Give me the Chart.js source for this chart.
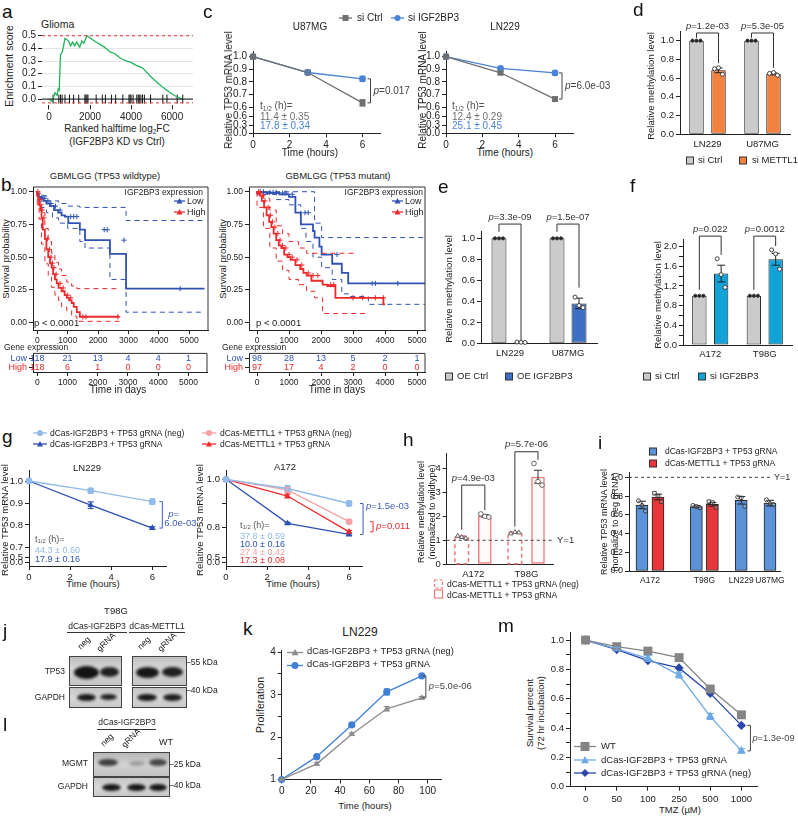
<!DOCTYPE html>
<html>
<head>
<meta charset="utf-8">
<title>IGF2BP3 / METTL1 figure</title>
<script src="https://cdn.jsdelivr.net/npm/chart.js@4.4.1/dist/chart.umd.min.js"></script>
<style>
  html, body { margin: 0; background: #fff; }
  #fig { position: relative; width: 798px; height: 817px; overflow: hidden; font-family: "Liberation Sans", Arial, Helvetica, sans-serif; color: #222; }
  #fig canvas { position: absolute; }
  .t { position: absolute; white-space: nowrap; line-height: 1; }
  .t sub { font-size: 0.65em; vertical-align: -0.3em; line-height: 0; }
  .blot { position: absolute; border: 1px solid #444; overflow: hidden; }
  .band { position: absolute; border-radius: 50%; filter: blur(1.6px); }
  .rule { position: absolute; height: 0; border-top: 1px solid #333; }
  svg.key { position: absolute; overflow: visible; }
</style>
</head>
<body>
<div id="fig"></div>
<script>
// ---------------- data ----------------
// a: GSEA running enrichment score
const gseaRank = [0, 150, 290, 400, 450, 500, 560, 650, 780, 950, 1050, 1150, 1250, 1350, 1500, 1600, 1700, 1850, 2100, 2300, 2500, 2700, 3000, 3200, 3500, 3800, 4000, 4200, 4500, 4600, 5000, 5500, 6000, 6200, 6500];
const gseaES = [0, -0.02, 0.05, 0.03, 0.08, 0.07, 0.35, 0.37, 0.48, 0.46, 0.42, 0.45, 0.42, 0.45, 0.41, 0.46, 0.44, 0.50, 0.47, 0.45, 0.43, 0.41, 0.37, 0.36, 0.32, 0.30, 0.29, 0.27, 0.25, 0.24, 0.17, 0.10, 0.04, 0.02, 0.0];
const gseaHits = [200, 480, 560, 640, 780, 1000, 1200, 1450, 1750, 1800, 1850, 1900, 2300, 2600, 2750, 3050, 3250, 3600, 3900, 3950, 4000, 4100, 4280, 4350, 4400, 4480, 4560, 4650, 4950, 5550, 5750, 6250, 6520];
const gseaXTicks = [0, 2000, 4000, 6000];
const gseaYTicks = [0, 0.1, 0.2, 0.3, 0.4, 0.5];

// b: Kaplan-Meier, TP53 wildtype
const kmXTicks = [0, 1000, 2000, 3000, 4000, 5000];
const kmYTicks = [0, 0.25, 0.5, 0.75, 1];
const wtLowT = [0, 50, 120, 200, 300, 420, 550, 690, 800, 910, 1020, 1400, 1570, 2390, 2920, 4090, 5500];
const wtLowS = [1, 0.98, 0.96, 0.95, 0.93, 0.91, 0.89, 0.86, 0.84, 0.82, 0.81, 0.76, 0.71, 0.63, 0.525, 0.26, 0.26];
const wtLowUpT = [0, 100, 300, 700, 1000, 1400, 2920, 4090, 5500];
const wtLowUpS = [1, 0.99, 0.97, 0.93, 0.91, 0.89, 0.88, 0.78, 0.78];
const wtLowLoT = [0, 100, 300, 500, 700, 1000, 1400, 1570, 2390, 2920, 4090, 5500];
const wtLowLoS = [1, 0.93, 0.88, 0.84, 0.80, 0.76, 0.72, 0.62, 0.57, 0.33, 0.08, 0.08];
const wtLowCens = [150, 250, 350, 450, 600, 750, 1100, 1200, 1300, 2200, 2300, 2850, 4700];
const wtHighT = [0, 30, 60, 100, 140, 180, 250, 300, 360, 420, 470, 520, 580, 640, 700, 800, 900, 970, 1050, 1130, 1200, 1300, 1400, 1460, 2700];
const wtHighS = [1, 0.97, 0.94, 0.9, 0.86, 0.8, 0.71, 0.64, 0.56, 0.5, 0.455, 0.42, 0.37, 0.33, 0.3, 0.265, 0.24, 0.21, 0.19, 0.17, 0.15, 0.12, 0.08, 0.045, 0.045];
const wtHighCiT = [0, 60, 140, 250, 360, 470, 580, 700, 800, 970, 1130, 1300, 1460, 2700];
const wtHighUpS = [1, 0.99, 0.94, 0.84, 0.72, 0.62, 0.53, 0.46, 0.41, 0.36, 0.31, 0.28, 0.26, 0.26];
const wtHighLoS = [1, 0.9, 0.79, 0.6, 0.45, 0.35, 0.27, 0.21, 0.17, 0.12, 0.09, 0.05, 0.01, 0.01];
const wtHighCens = [20, 80, 120, 160, 220, 330, 400, 450, 500, 550, 620, 750, 850, 1000, 1100, 1500, 1600, 2650];
const wtRiskLow = [118, 21, 13, 4, 4, 1];
const wtRiskHigh = [118, 6, 1, 0, 0, 0];

// b: Kaplan-Meier, TP53 mutant
const mutLowT = [0, 300, 700, 1000, 1200, 1370, 1750, 1800, 1950, 2020, 2350, 2650, 2850, 3480, 5250];
const mutLowS = [1, 0.995, 0.99, 0.98, 0.96, 0.84, 0.75, 0.70, 0.65, 0.58, 0.52, 0.45, 0.38, 0.30, 0.30];
const mutLowUpT = [0, 1800, 2020, 3480, 5250];
const mutLowUpS = [1, 1, 0.76, 0.65, 0.65];
const mutLowLoT = [0, 600, 1000, 1370, 1530, 1750, 2020, 2350, 2650, 2850, 3480, 4000, 5250];
const mutLowLoS = [1, 0.98, 0.94, 0.9, 0.72, 0.62, 0.5, 0.42, 0.33, 0.22, 0.2, 0.14, 0.14];
const mutLowCens = [100, 200, 400, 500, 600, 800, 900, 1100, 1500, 1600, 2500, 3600, 3700, 4400];
const mutHighT = [0, 80, 150, 220, 300, 380, 450, 520, 600, 680, 760, 850, 950, 1050, 1200, 1350, 1450, 1550, 1700, 2050, 2200, 2450, 2500, 3950, 4000];
const mutHighS = [1, 0.99, 0.97, 0.93, 0.88, 0.82, 0.77, 0.73, 0.68, 0.63, 0.59, 0.57, 0.52, 0.50, 0.48, 0.44, 0.41, 0.38, 0.36, 0.32, 0.29, 0.28, 0.19, 0.19, 0.14];
const mutHighUpT = [0, 200, 400, 600, 800, 1000, 1300, 1550, 2050, 3100];
const mutHighUpS = [1, 1, 0.95, 0.86, 0.74, 0.68, 0.62, 0.57, 0.53, 0.53];
const mutHighLoT = [0, 200, 400, 600, 800, 1000, 1300, 1550, 1800, 2050, 2250, 3400];
const mutHighLoS = [1, 0.88, 0.72, 0.57, 0.47, 0.40, 0.33, 0.29, 0.24, 0.19, 0.07, 0.07];
const mutHighCens = [50, 100, 180, 250, 350, 420, 480, 560, 650, 720, 800, 900, 1000, 1100, 1250, 1400, 1600, 1750, 1900, 2300, 2400, 3000, 3300, 3700, 3950];
const mutRiskLow = [98, 28, 13, 5, 2, 1];
const mutRiskHigh = [97, 17, 4, 2, 0, 0];

// c: TP53 mRNA decay
const cHours = [0, 3, 6];
const u87Ctrl = [1.0, 0.875, 0.635], u87CtrlSd = [0, 0.015, 0.025];
const u87Kd = [1.0, 0.875, 0.825], u87KdSd = [0, 0.01, 0.02];
const ln229Ctrl = [1.0, 0.873, 0.665], ln229CtrlSd = [0, 0.01, 0.015];
const ln229Kd = [1.0, 0.907, 0.872], ln229KdSd = [0, 0.01, 0.015];
const cTickLow = [0, 0.3, 0.6];
const cTickUp = [0.6, 0.7, 0.8, 0.9, 1.0];

// d: methylation, si METTL1
const dCells = ['LN229', 'U87MG'];
const dCtrl = [1, 1];
const dCtrlDots = [[1, 1, 1], [1, 1, 1]];
const dMettl = [0.683, 0.645], dMettlSd = [0.025, 0.01];
const dMettlDots = [[0.70, 0.71, 0.64], [0.65, 0.66, 0.63]];
const dP = ['p=1.2e-03', 'p=5.3e-05'];

// e: methylation, OE IGF2BP3
const eCells = ['LN229', 'U87MG'];
const eCtrl = [1, 1];
const eCtrlDots = [[1, 1, 1], [1, 1, 1]];
const eOE = [0.01, 0.38], eOESd = [0.003, 0.05];
const eOEDots = [[0.012, 0.01, 0.008], [0.44, 0.36, 0.34]];
const eP = ['p=3.3e-09', 'p=1.5e-07'];

// f: methylation, si IGF2BP3
const fCells = ['A172', 'T98G'];
const fCtrl = [1, 1];
const fCtrlDots = [[1, 1, 1], [1, 1, 1]];
const fKd = [1.45, 1.74], fKdSd = [0.17, 0.12];
const fKdDots = [[1.75, 1.43, 1.17], [1.93, 1.85, 1.54]];
const fP = ['p=0.022', 'p=0.0012'];

// g: dCas decay
const gHours = [0, 3, 6];
const gLnNeg = [1.0, 0.956, 0.906], gLnNegSd = [0, 0.01, 0.012];
const gLnG = [1.0, 0.89, 0.786], gLnGSd = [0, 0.015, 0.006];
const gAIgNeg = [1.0, 0.962, 0.90], gAIgNegSd = [0, 0.012, 0.01];
const gAIgG = [1.0, 0.818, 0.772], gAIgGSd = [0, 0.004, 0.004];
const gAMeNeg = [1.0, 0.956, 0.825], gAMeNegSd = [0, 0.01, 0.004];
const gAMeG = [1.0, 0.931, 0.783], gAMeGSd = [0, 0.008, 0.006];

// h: methylation, dCas-METTL1
const hCells = ['A172', 'T98G'];
const hNeg = [1.15, 1.33], hNegSd = [0.04, 0.02];
const hNegDots = [[1.2, 1.15, 1.1], [1.3, 1.36, 1.34]];
const hG = [2.02, 3.65], hGSd = [0.05, 0.27];
const hGDots = [[2.1, 2.0, 1.97], [4.2, 3.45, 3.3]];
const hP = ['p=4.9e-03', 'p=5.7e-06'];

// i: TP53 mRNA, normalised to neg gRNA
const iCells = ['A172', 'T98G', 'LN229', 'U87MG'];
const iIgf = [0.705, 0.687, 0.755, 0.725], iIgfSd = [0.04, 0.01, 0.04, 0.03];
const iIgfDots = [[0.75, 0.7, 0.64], [0.70, 0.69, 0.675], [0.79, 0.78, 0.69], [0.76, 0.72, 0.71]];
const iMet = [0.79, 0.712], iMetSd = [0.03, 0.02];
const iMetDots = [[0.83, 0.80, 0.74], [0.74, 0.73, 0.68]];
// layout of the bar slots along x (in bar widths), not data
const iSlotIgf = [0, 3.4, 6.2, 8.0];
const iSlotMet = [1, 4.4];

// k: proliferation
const kHours = [0, 24, 48, 72, 96];
const kNeg = [1.0, 1.37, 2.07, 2.67, 2.93], kNegSd = [0, 0.03, 0.03, 0.05, 0.03];
const kG = [1.0, 1.54, 2.29, 3.07, 3.45], kGSd = [0, 0.03, 0.03, 0.07, 0.03];

// m: TMZ survival
const tmzDose = ['0', '50', '100', '250', '500', '1000'];
const mWT = [1.0, 0.955, 0.925, 0.88, 0.666, 0.49];
const mGrna = [1.0, 0.94, 0.875, 0.761, 0.479, 0.244], mGrnaSd = [0, 0.01, 0.02, 0.02, 0.02, 0.015];
const mNeg = [1.0, 0.935, 0.86, 0.81, 0.636, 0.418];

// ---------------- colours ----------------
const KM_BLUE = '#2f52b4', KM_RED = '#ee2a2c';
const C_GRAY = '#6f6f6f', C_BLUE = '#4a84d6';
const GRAY_BAR = '#cbcbcb', ORANGE = '#f3813f', E_BLUE = '#3d6fc2', F_CYAN = '#10a3d8';
const G_LB = '#91bbe9', G_DB = '#2e50b4', G_PINK = '#f4a2a5', G_RED = '#ef2b2e';
const H_RED = '#f07a7a', I_BLUE = '#5c92d8', I_RED = '#e8363b';
const K_GRAY = '#8c8c8c', K_BLUE = '#3f7fd6';
const M_GRAY = '#858585', M_LB = '#6ea9e6', M_DB = '#2b47ad';

// ---------------- setup ----------------
const F = '"Liberation Sans", Arial, Helvetica, sans-serif';
const fig = document.getElementById('fig');
Chart.defaults.font.family = F;
Chart.defaults.font.size = 9.5;
Chart.defaults.color = '#222';
Chart.defaults.animation = false;
Chart.defaults.responsive = false;
Chart.defaults.events = [];
Chart.defaults.plugins.legend.display = false;
Chart.defaults.plugins.tooltip.enabled = false;

// draws brackets, error bars, replicate dots and labels on top of a chart
const extras = {
  id: 'extras',
  afterDatasetsDraw(chart, args, opts) {
    if (!opts || !opts.draw) return;
    const ctx = chart.ctx, sx = chart.scales.x, sy = chart.scales.y;
    const h = {
      ctx, area: chart.chartArea,
      px: v => sx.getPixelForValue(v),
      py: v => sy.getPixelForValue(v),
      el: (d, i) => chart.getDatasetMeta(d).data[i],
      path(pts, col, w = 1, dash = []) {
        ctx.save(); ctx.strokeStyle = col; ctx.lineWidth = w; ctx.setLineDash(dash);
        ctx.beginPath();
        pts.forEach(([x, y], i) => i ? ctx.lineTo(x, y) : ctx.moveTo(x, y));
        ctx.stroke(); ctx.restore();
      },
      err(x, yHi, yLo, col, cap = 3, w = 1) {
        h.path([[x, yHi], [x, yLo]], col, w);
        h.path([[x - cap, yHi], [x + cap, yHi]], col, w);
        h.path([[x - cap, yLo], [x + cap, yLo]], col, w);
      },
      label(s, x, y, col = '#222', size = 9.5, align = 'left') {
        ctx.save(); ctx.fillStyle = col; ctx.textBaseline = 'middle'; ctx.textAlign = 'left';
        const ital = s.startsWith('p=');
        const rest = ital ? s.slice(1) : s;
        ctx.font = `italic ${size}px ${F}`;
        const wp = ital ? ctx.measureText('p').width : 0;
        ctx.font = `${size}px ${F}`;
        const wr = ctx.measureText(rest).width;
        const x0 = align === 'center' ? x - (wp + wr) / 2 : align === 'right' ? x - wp - wr : x;
        if (ital) { ctx.font = `italic ${size}px ${F}`; ctx.fillText('p', x0, y); ctx.font = `${size}px ${F}`; }
        ctx.fillText(rest, x0 + wp, y);
        ctx.restore();
      },
      dot(x, y, shape, r, fill, stroke) {
        ctx.save(); ctx.fillStyle = fill; ctx.strokeStyle = stroke; ctx.lineWidth = 0.9;
        ctx.beginPath();
        if (shape === 'tri') { ctx.moveTo(x, y - r); ctx.lineTo(x + r, y + r * 0.8); ctx.lineTo(x - r, y + r * 0.8); ctx.closePath(); }
        else if (shape === 'rect') ctx.rect(x - r, y - r, 2 * r, 2 * r);
        else ctx.arc(x, y, r, 0, Math.PI * 2);
        ctx.fill(); ctx.stroke(); ctx.restore();
      }
    };
    opts.draw(h);
  }
};
Chart.register(extras);

// HTML text, (x, y) = anchor, y is the vertical centre
function txt(html, x, y, o = {}) {
  const d = document.createElement('div');
  d.className = 't';
  d.innerHTML = html;
  d.style.left = x + 'px';
  d.style.top = y + 'px';
  d.style.fontSize = (o.size || 9.5) + 'px';
  if (o.color) d.style.color = o.color;
  const axx = o.align === 'c' ? '-50%' : o.align === 'r' ? '-100%' : '0';
  d.style.transform = o.rot ? `translate(-50%,-50%) rotate(${o.rot}deg)` : `translate(${axx},-50%)`;
  fig.appendChild(d);
}
const panel = (s, x, y) => txt(s, x, y, { size: 19, color: '#111' });

// legend glyph: optional line with a marker in the middle
function key(x, y, o) {
  const w = o.w || 14, r = (o.size || 7) / 2, cx = w / 2, cy = r + 1;
  let g = '';
  if (o.line) g += `<line x1="0" y1="${cy}" x2="${w}" y2="${cy}" stroke="${o.col}" stroke-width="1.3"/>`;
  const f = `fill="${o.col}"`;
  if (o.shape === 'rect') g += `<rect x="${cx - r}" y="${cy - r}" width="${2 * r}" height="${2 * r}" ${f}/>`;
  if (o.shape === 'box') g += `<rect x="${cx - r}" y="${cy - r}" width="${2 * r}" height="${2 * r}" ${f} stroke="#333" stroke-width="1"/>`;
  if (o.shape === 'open') g += `<rect x="${cx - r}" y="${cy - r}" width="${2 * r}" height="${2 * r}" fill="none" stroke="${o.col}" stroke-width="1.2" ${o.dash ? 'stroke-dasharray="3 2"' : ''}/>`;
  if (o.shape === 'circle') g += `<circle cx="${cx}" cy="${cy}" r="${r}" ${f}/>`;
  if (o.shape === 'tri') g += `<polygon points="${cx},${cy - r} ${cx + r},${cy + r * 0.8} ${cx - r},${cy + r * 0.8}" ${f}/>`;
  if (o.shape === 'diamond') g += `<polygon points="${cx},${cy - r} ${cx + r},${cy} ${cx},${cy + r} ${cx - r},${cy}" ${f}/>`;
  fig.insertAdjacentHTML('beforeend',
    `<svg class="key" style="left:${x}px;top:${y - cy}px" width="${w}" height="${2 * cy}">${g}</svg>`);
}

function rule(x1, x2, y) {
  const d = document.createElement('div');
  d.className = 'rule';
  Object.assign(d.style, { left: x1 + 'px', top: y + 'px', width: (x2 - x1) + 'px' });
  fig.appendChild(d);
}

function blot(x, y, w, hgt, bg, bands) {
  const b = document.createElement('div');
  b.className = 'blot';
  Object.assign(b.style, { left: x + 'px', top: y + 'px', width: w + 'px', height: hgt + 'px', background: bg });
  bands.forEach(([cx, cy, bw, bh, a]) => {
    const d = document.createElement('div');
    d.className = 'band';
    Object.assign(d.style, { left: (cx - bw / 2) + 'px', top: (cy - bh / 2) + 'px', width: bw + 'px', height: bh + 'px', background: `rgba(12,12,12,${a})` });
    b.appendChild(d);
  });
  fig.appendChild(b);
}

function ax(o = {}, t = {}) {
  return {
    grid: { drawOnChartArea: false, tickLength: 4, tickColor: '#222', color: '#222' },
    border: { color: '#222', width: 1 },
    ...o,
    ticks: { padding: 2, maxRotation: 0, autoSkip: false, color: '#222', font: { size: 9.5 }, ...t }
  };
}
const fix = list => s => { s.ticks = list.map(v => ({ value: v })); };

// canvas at box [left, top, w, h]; plot area forced to [x1, y1, x2, y2] (page px)
function mk(box, area, cfg) {
  const [L, T, W, H] = box, [x1, y1, x2, y2] = area;
  const c = document.createElement('canvas');
  c.width = W; c.height = H;
  c.style.left = L + 'px'; c.style.top = T + 'px';
  fig.appendChild(c);
  const o = cfg.options;
  o.layout = { padding: { top: y1 - T, right: L + W - x2, left: 0, bottom: 0 } };
  o.scales.x.afterFit = s => { s.height = T + H - y2; };
  o.scales.y.afterFit = s => { s.width = x1 - L; };
  return new Chart(c, cfg);
}

// ---------------- a: GSEA ----------------
panel('a', 2, 11);
txt('Glioma', 41, 24, { size: 10.5 });
txt('Enrichment score', 9, 66, { size: 10.5, rot: -90 });
txt('Ranked halftime log<sub>2</sub>FC', 117, 129, { size: 10, align: 'c' });
txt('(IGF2BP3 KD vs Ctrl)', 117, 142, { size: 10, align: 'c' });
mk([0, 18, 205, 112], [42, 29.4, 193, 105.4], {
  type: 'line',
  data: { datasets: [
    { data: gseaRank.map((x, i) => ({ x, y: gseaES[i] })), borderColor: '#21b35b', borderWidth: 1.3, pointRadius: 0 },
    { data: gseaHits.map(x => ({ x, y: 0 })), showLine: false, pointStyle: 'line', pointRotation: 90, pointRadius: 4.5, borderColor: '#111', borderWidth: 1 }
  ] },
  options: {
    scales: {
      x: ax({ type: 'linear', min: -340, max: 7020, afterBuildTicks: fix(gseaXTicks), border: { display: false } }, { callback: v => String(v), font: { size: 10 } }),
      y: ax({ min: -0.05, max: 0.55, afterBuildTicks: fix(gseaYTicks), border: { display: false },
              grid: { color: '#e4e4ec', tickLength: 4, tickColor: '#222' } }, { callback: v => v.toFixed(1), font: { size: 10 } })
    },
    plugins: { extras: { draw: h => {
      const { left, right } = h.area;
      h.path([[left, h.py(0.5)], [right, h.py(0.5)]], '#e8342e', 1, [3, 3]);
      h.path([[left, h.py(-0.03)], [right, h.py(-0.03)]], '#e8342e', 1, [3, 3]);
      h.path([[left, h.py(0)], [right, h.py(0)]], '#111', 1);
    } } }
  }
});

// ---------------- b: Kaplan-Meier ----------------
const stepDs = (T, S, col, w, dash) => ({
  data: T.map((t, i) => ({ x: t, y: S[i] })), stepped: 'after',
  borderColor: col, borderWidth: w, borderDash: dash || [], pointRadius: 0
});
const stepAt = (T, S, t) => { let v = S[0]; T.forEach((tt, i) => { if (tt <= t) v = S[i]; }); return v; };
const KM_TF = { size: 8.5 };

function kmChart(box, area, xr, curves) {
  const ds = [];
  curves.forEach(c => {
    ds.push(stepDs(c.loT, c.loS, c.col, 1, [5, 4]), stepDs(c.upT, c.upS, c.col, 1, [5, 4]), stepDs(c.T, c.S, c.col, 1.8));
    ds.push({ data: c.cens.map(t => ({ x: t, y: stepAt(c.T, c.S, t) })), showLine: false,
              pointStyle: 'cross', pointRadius: 2.6, borderColor: c.col, borderWidth: 1 });
  });
  mk(box, area, {
    type: 'line', data: { datasets: ds },
    options: {
      scales: {
        x: ax({ type: 'linear', min: xr[0], max: xr[1], afterBuildTicks: fix(kmXTicks) }, { font: KM_TF, callback: v => String(v) }),
        y: ax({ min: -0.056, max: 1.036, afterBuildTicks: fix(kmYTicks) }, { font: KM_TF, callback: v => v.toFixed(2) })
      },
      plugins: { extras: { draw: h => {
        const a = h.area;
        h.path([[a.left, a.top], [a.right, a.top], [a.right, a.bottom]], '#333', 1);
      } } }
    }
  });
}

function riskChart(box, area, xr, low, high) {
  mk(box, area, {
    type: 'line', data: { datasets: [] },
    options: {
      scales: {
        x: ax({ type: 'linear', min: xr[0], max: xr[1], afterBuildTicks: fix(kmXTicks) }, { font: KM_TF, callback: v => String(v) }),
        y: ax({ min: 0, max: 2, afterBuildTicks: fix([0.5, 1.5]) },
              { font: { size: 9 }, callback: v => v > 1 ? 'Low' : 'High', color: c => (c.tick && c.tick.value > 1) ? KM_BLUE : KM_RED })
      },
      plugins: { extras: { draw: h => {
        const a = h.area;
        h.path([[a.left, a.top], [a.right, a.top], [a.right, a.bottom]], '#333', 1);
        kmXTicks.forEach((t, i) => {
          h.label(String(low[i]), h.px(t), h.py(1.5), KM_BLUE, 9, 'center');
          h.label(String(high[i]), h.px(t), h.py(0.5), KM_RED, 9, 'center');
        });
      } } }
    }
  });
}

panel('b', 1, 184);
txt('GBMLGG (TP53 wildtype)', 105, 176, { size: 9.5, align: 'c' });
txt('GBMLGG (TP53 mutant)', 338, 176, { size: 9.5, align: 'c' });
txt('Survival probability', 6, 259, { size: 9.5, rot: -90 });
txt('Survival probability', 223, 259, { size: 9.5, rot: -90 });
kmChart([0, 178, 218, 170], [33, 187, 208, 330], [-141, 5615], [
  { T: wtHighT, S: wtHighS, upT: wtHighCiT, upS: wtHighUpS, loT: wtHighCiT, loS: wtHighLoS, cens: wtHighCens, col: KM_RED },
  { T: wtLowT, S: wtLowS, upT: wtLowUpT, upS: wtLowUpS, loT: wtLowLoT, loS: wtLowLoS, cens: wtLowCens, col: KM_BLUE }
]);
kmChart([215, 178, 222, 170], [249, 187, 425, 330], [-250, 5250], [
  { T: mutHighT, S: mutHighS, upT: mutHighUpT, upS: mutHighUpS, loT: mutHighLoT, loS: mutHighLoS, cens: mutHighCens, col: KM_RED },
  { T: mutLowT, S: mutLowS, upT: mutLowUpT, upS: mutLowUpS, loT: mutLowLoT, loS: mutLowLoS, cens: mutLowCens, col: KM_BLUE }
]);
riskChart([0, 346, 218, 46], [33, 353, 207, 372], [-141, 5615], wtRiskLow, wtRiskHigh);
riskChart([215, 346, 222, 46], [249, 353, 425, 372], [-250, 5250], mutRiskLow, mutRiskHigh);
[[203, 174, 187], [423, 392, 405]].forEach(([xr, xk, xt]) => {
  txt('IGF2BP3 expression', xr, 192, { size: 8.5, align: 'r' });
  key(xk, 201, { col: KM_BLUE, shape: 'tri', line: true, w: 11, size: 6 });
  txt('Low', xt, 201, { size: 9 });
  key(xk, 212, { col: KM_RED, shape: 'tri', line: true, w: 11, size: 6 });
  txt('High', xt, 212, { size: 9 });
});
txt('p &lt; 0.0001', 34, 323, { size: 9.5 });
txt('p &lt; 0.0001', 256, 323, { size: 9.5 });
txt('Gene expression', 4, 347, { size: 8.5 });
txt('Gene expression', 222, 347, { size: 8.5 });
txt('Time in days', 118, 390, { size: 10, align: 'c' });
txt('Time in days', 337, 390, { size: 10, align: 'c' });

// ---------------- decay line charts (c, g, k) ----------------
function decay(box, area, xr, xTicks, yr, map, ticks, series, extra, tf = 9.5) {
  return mk(box, area, {
    type: 'line',
    data: { datasets: series.map(s => ({
      data: s.x.map((x, i) => ({ x, y: map(s.y[i]) })),
      borderColor: s.col, backgroundColor: s.col, borderWidth: 1.3,
      pointStyle: s.pt, pointRadius: s.r, pointBorderWidth: 0, clip: false
    })) },
    options: {
      scales: {
        x: ax({ type: 'linear', min: xr[0], max: xr[1], afterBuildTicks: fix(xTicks) }, { font: { size: tf } }),
        y: ax({ min: yr[0], max: yr[1], afterBuildTicks: s => { s.ticks = ticks.map(t => ({ value: t[0], t: t[1] })); } },
              { font: { size: tf }, callback: (v, i, tk) => tk[i].t })
      },
      plugins: { extras: { draw: h => {
        series.forEach((s, d) => s.sd.forEach((e, i) => {
          if (!e) return;
          h.err(h.el(d, i).x, h.py(map(s.y[i] + e)), h.py(map(s.y[i] - e)), s.col, 3, 1.2);
        }));
        if (extra) extra(h);
      } } }
    }
  });
}
// vertical bracket to the right of two points
function vBracket(h, a, b, dx, col, text, size = 9.5, gap = 3) {
  const x = a.x + dx;
  h.path([[x - 3, a.y], [x, a.y], [x, b.y], [x - 3, b.y]], col, 1);
  if (text) h.label(text, x + gap, (a.y + b.y) / 2, col, size);
  return x;
}

// c
const cLo = v => v / 0.6 * 16.6;
const cUp = v => 26 + (v - 0.6) * 126.5;
const cMap = v => v >= 0.6 ? cUp(v) : cLo(v);
const cTicks = [...cTickLow.map(v => [cLo(v), v.toFixed(1)]), ...cTickUp.map(v => [cUp(v), v.toFixed(1)])];

panel('c', 203, 11);
key(339, 18, { col: C_GRAY, shape: 'rect', line: true, w: 13, size: 6 });
txt('si Ctrl', 357, 18, { size: 10 });
key(391, 18, { col: C_BLUE, shape: 'circle', line: true, w: 13, size: 6 });
txt('si IGF2BP3', 408, 18, { size: 10 });
txt('U87MG', 310, 27, { size: 10, align: 'c' });
txt('LN229', 505, 27, { size: 10, align: 'c' });
txt('Relative TP53 mRNA level', 229, 90, { size: 10, rot: -90 });
txt('Relative TP53 mRNA level', 423, 90, { size: 10, rot: -90 });
txt('Time (hours)', 310, 153, { size: 10, align: 'c' });
txt('Time (hours)', 505, 153, { size: 10, align: 'c' });
decay([215, 42, 210, 112], [253, 51, 380.75, 133.3], [0, 7], [0, 2, 4, 6], [0, 82.3], cMap, cTicks, [
  { x: cHours, y: u87Ctrl, sd: u87CtrlSd, col: C_GRAY, pt: 'rect', r: 4.2 },
  { x: cHours, y: u87Kd, sd: u87KdSd, col: C_BLUE, pt: 'circle', r: 3.4 }
], h => vBracket(h, h.el(1, 2), h.el(0, 2), 8, '#444', 'p=0.017', 10), 10);
decay([400, 42, 240, 112], [446, 51, 573.2, 133.3], [0, 7], [0, 2, 4, 6], [0, 82.3], cMap, cTicks, [
  { x: cHours, y: ln229Ctrl, sd: ln229CtrlSd, col: C_GRAY, pt: 'rect', r: 4.2 },
  { x: cHours, y: ln229Kd, sd: ln229KdSd, col: C_BLUE, pt: 'circle', r: 3.4 }
], h => vBracket(h, h.el(1, 2), h.el(0, 2), 7, '#444', 'p=6.0e-03', 10), 10);
txt('t<sub>1/2</sub> (h)=', 260, 106, { size: 10, color: '#555' });
txt('11.4 ± 0.35', 260, 117, { size: 10, color: C_GRAY });
txt('17.8 ± 0.34', 260, 126, { size: 10, color: C_BLUE });
txt('t<sub>1/2</sub> (h)=', 452, 106, { size: 10, color: '#555' });
txt('12.4 ± 0.29', 452, 117, { size: 10, color: C_GRAY });
txt('25.1 ± 0.45', 452, 126, { size: 10, color: C_BLUE });

// ---------------- bar charts (d, e, f, h) ----------------
function barChart(box, area, o) {
  return mk(box, area, {
    type: 'bar',
    data: { labels: o.cats, datasets: o.sets.map(s => ({
      data: s.v, backgroundColor: s.fill, borderColor: s.edge || '#222', borderWidth: s.bw ?? 1,
      borderSkipped: false, categoryPercentage: o.catPct, barPercentage: o.barPct })) },
    options: {
      scales: {
        x: ax({ grid: { drawOnChartArea: false, drawTicks: false } }, { padding: 4 }),
        y: ax({ min: 0, max: o.yMax, afterBuildTicks: fix(o.yTicks) }, { callback: o.fmt })
      },
      plugins: { extras: { draw: h => {
        if (o.pre) o.pre(h);
        o.sets.forEach((s, d) => s.v.forEach((v, i) => {
          const x = h.el(d, i).x;
          if (s.sd && s.sd[i]) h.err(x, h.py(v + s.sd[i]), h.py(v - s.sd[i]), s.errCol || '#222', 4, 1);
          (s.dots ? s.dots[i] : []).forEach((y, k) =>
            h.dot(x + (k - 1) * 4, h.py(y), s.dotShape || 'circle', s.dotR || 2, s.dotFill || '#fff', s.dotEdge || '#333'));
        }));
        if (o.extra) o.extra(h);
      } } }
    }
  });
}
function sig(h, i, top, yA, yB, text) {
  const xa = h.el(0, i).x, xb = h.el(1, i).x;
  h.path([[xa, h.py(yA)], [xa, h.py(top)], [xb, h.py(top)], [xb, h.py(yB)]], '#333', 1);
  h.label(text, (xa + xb) / 2, h.py(top) - 7, '#333', 9.5, 'center');
}

// d
panel('d', 633, 9);
txt('Relative methylation level', 651, 86, { size: 9.5, rot: -90 });
barChart([640, 12, 158, 146], [680, 31.3, 790, 134.3], {
  cats: dCells, yMax: 1.1, yTicks: [0, 0.2, 0.4, 0.6, 0.8, 1.0], fmt: v => v.toFixed(1), catPct: 0.8, barPct: 0.66,
  sets: [
    { v: dCtrl, fill: GRAY_BAR, dots: dCtrlDots, dotFill: '#222', dotR: 1.6 },
    { v: dMettl, sd: dMettlSd, fill: ORANGE, dots: dMettlDots }
  ],
  extra: h => { sig(h, 0, 1.082, 1.03, 0.76, dP[0]); sig(h, 1, 1.082, 1.03, 0.71, dP[1]); }
});
key(686, 160, { col: GRAY_BAR, shape: 'box', w: 8, size: 7 });
txt('si Ctrl', 698, 160);
key(739, 160, { col: ORANGE, shape: 'box', w: 8, size: 7 });
txt('si METTL1', 752, 160);

// e
panel('e', 438, 186);
txt('Relative methylation level', 449, 289, { size: 9.5, rot: -90 });
barChart([440, 200, 175, 168], [481, 231, 597, 343.3], {
  cats: eCells, yMax: 1.07, yTicks: [0, 0.2, 0.4, 0.6, 0.8, 1.0], fmt: v => v.toFixed(1), catPct: 0.76, barPct: 0.68,
  sets: [
    { v: eCtrl, fill: GRAY_BAR, dots: eCtrlDots, dotFill: '#222', dotR: 1.6 },
    { v: eOE, sd: eOESd, fill: E_BLUE, dots: eOEDots }
  ],
  extra: h => { sig(h, 0, 1.136, 1.063, 0.03, eP[0]); sig(h, 1, 1.136, 1.063, 0.53, eP[1]); }
});
key(445, 376, { col: GRAY_BAR, shape: 'box', w: 8, size: 7 });
txt('OE Ctrl', 457, 376);
key(505, 376, { col: E_BLUE, shape: 'box', w: 8, size: 7 });
txt('OE IGF2BP3', 517, 376);

// f
panel('f', 630, 185);
txt('Relative methylation level', 658, 295, { size: 9.5, rot: -90 });
barChart([640, 212, 158, 156], [683, 239.1, 792, 345], {
  cats: fCells, yMax: 2.15, yTicks: [0, 0.2, 0.4, 0.6, 0.8, 1.0, 1.2, 1.4, 1.6, 1.8, 2.0],
  fmt: v => (Math.round(v * 10) % 4 === 0 ? v.toFixed(1) : ''), catPct: 0.8, barPct: 0.66,
  sets: [
    { v: fCtrl, fill: GRAY_BAR, dots: fCtrlDots, dotFill: '#222', dotR: 1.6 },
    { v: fKd, sd: fKdSd, fill: F_CYAN, dots: fKdDots }
  ],
  extra: h => { sig(h, 0, 2.21, 1.12, 1.83, fP[0]); sig(h, 1, 2.21, 1.12, 2.01, fP[1]); }
});
key(643, 376, { col: GRAY_BAR, shape: 'box', w: 8, size: 7 });
txt('si Ctrl', 655, 376);
key(698, 376, { col: F_CYAN, shape: 'box', w: 8, size: 7 });
txt('si IGF2BP3', 710, 376);

// ---------------- g ----------------
const gLnUp = v => 85 - (1 - v) * 220;
const gAUp = v => 86.7 - (1 - v) * 242;
const gLo = v => 4 + v * 10;
const gLnTicks = [[gLo(0), '0.0'], [gLo(0.5), '0.5'], [gLnUp(0.7), '0.7'], [gLnUp(0.8), '0.8'], [gLnUp(0.9), '0.9'], [gLnUp(1), '1.0']];
const gATicks = [[gLo(0), '0.0'], [gLo(0.5), '0.5'], [gAUp(0.8), '0.8'], [gAUp(0.9), ''], [gAUp(1), '1.0']];

panel('g', 2, 436);
key(33, 433, { col: G_LB, shape: 'circle', line: true, w: 14, size: 6 });
txt('dCas-IGF2BP3 + TP53 gRNA (neg)', 50, 433, { size: 8.5 });
key(33, 444, { col: G_DB, shape: 'tri', line: true, w: 14, size: 6 });
txt('dCas-IGF2BP3 + TP53 gRNA', 50, 444, { size: 8.5 });
key(202, 433, { col: G_PINK, shape: 'circle', line: true, w: 14, size: 6 });
txt('dCas-METTL1 + TP53 gRNA (neg)', 220, 433, { size: 8.5 });
key(202, 444, { col: G_RED, shape: 'tri', line: true, w: 14, size: 6 });
txt('dCas-METTL1 + TP53 gRNA', 220, 444, { size: 8.5 });
txt('LN229', 87, 468, { size: 9.5, align: 'c' });
txt('A172', 285, 467, { size: 9.5, align: 'c' });
txt('Relative TP53 mRNA level', 5, 520, { size: 9.5, rot: -90 });
txt('Relative TP53 mRNA level', 200, 520, { size: 9.5, rot: -90 });
txt('Time (hours)', 93, 584, { size: 9.5, align: 'c' });
txt('Time (hours)', 293, 584, { size: 9.5, align: 'c' });
decay([0, 462, 215, 118], [29, 470, 166.7, 566], [0, 6.7], [0, 2, 4, 6], [0, 96], v => gLnUp(v), gLnTicks, [
  { x: gHours, y: gLnNeg, sd: gLnNegSd, col: G_LB, pt: 'circle', r: 3.4 },
  { x: gHours, y: gLnG, sd: gLnGSd, col: G_DB, pt: 'triangle', r: 3.8 }
], h => {
  const x = vBracket(h, h.el(0, 2), h.el(1, 2), 10, '#3d5cc0');
  const mid = (h.el(0, 2).y + h.el(1, 2).y) / 2;
  h.label('p=', x + 6, mid - 1, '#3d5cc0', 9.5);
  h.label('6.0e-03', x + 2, mid + 8, '#3d5cc0', 9.5);
});
decay([195, 462, 235, 118], [226, 470, 362, 566], [0, 6.63], [0, 2, 4, 6], [0, 96], v => gAUp(v), gATicks, [
  { x: gHours, y: gAIgNeg, sd: gAIgNegSd, col: G_LB, pt: 'circle', r: 3.4 },
  { x: gHours, y: gAIgG, sd: gAIgGSd, col: G_DB, pt: 'triangle', r: 3.8 },
  { x: gHours, y: gAMeNeg, sd: gAMeNegSd, col: G_PINK, pt: 'circle', r: 3.4 },
  { x: gHours, y: gAMeG, sd: gAMeGSd, col: G_RED, pt: 'triangle', r: 3.8 }
], h => {
  const x = vBracket(h, h.el(0, 2), h.el(1, 2), 14, '#3d5cc0');
  h.label('p=1.5e-03', x + 3, h.el(0, 2).y + 3, '#3d5cc0', 9.5);
  vBracket(h, h.el(2, 2), h.el(3, 2), 24, G_RED, 'p=0.011');
});
txt('t<sub>1/2</sub> (h)=', 35, 539, { size: 9, color: '#555' });
txt('44.3 ± 0.60', 35, 550, { size: 9, color: G_LB });
txt('17.9 ± 0.16', 35, 559, { size: 9, color: G_DB });
txt('t<sub>1/2</sub> (h)=', 240, 525, { size: 9, color: '#555' });
txt('37.8 ± 0.59', 240, 536, { size: 9, color: G_LB });
txt('10.0 ± 0.16', 240, 544, { size: 9, color: G_DB });
txt('27.4 ± 0.42', 240, 552, { size: 9, color: G_PINK });
txt('17.3 ± 0.08', 240, 560, { size: 9, color: G_RED });

// ---------------- h ----------------
panel('h', 403, 439);
txt('Relative methylation level', 421, 512, { size: 9, rot: -90 });
txt('(normalized to wildtype)', 432, 512, { size: 9, rot: -90 });
barChart([400, 438, 200, 150], [446.7, 453.9, 553, 564.3], {
  cats: hCells, yMax: 4.6, yTicks: [0, 1, 2, 3, 4], fmt: v => String(v), catPct: 0.87, barPct: 0.59,
  sets: [
    { v: hNeg, sd: hNegSd, fill: 'rgba(0,0,0,0)', bw: 0, errCol: H_RED, dots: hNegDots, dotShape: 'tri', dotR: 2.2, dotEdge: '#555' },
    { v: hG, sd: hGSd, fill: 'rgba(255,235,235,0.25)', edge: H_RED, bw: 1.5, errCol: '#333', dots: hGDots, dotR: 2.3, dotEdge: '#555' }
  ],
  pre: h => {
    hNeg.forEach((v, i) => {
      const e = h.el(0, i);
      h.ctx.save(); h.ctx.strokeStyle = H_RED; h.ctx.lineWidth = 1.5; h.ctx.setLineDash([4, 3]);
      h.ctx.strokeRect(e.x - e.width / 2, e.y, e.width, e.base - e.y);
      h.ctx.restore();
    });
    h.path([[h.area.left, h.py(1)], [h.area.right, h.py(1)]], '#444', 1, [3, 3]);
    h.label('Y=1', h.area.right + 4, h.py(1), '#333', 9.5);
  },
  extra: h => { sig(h, 0, 3.3, 1.43, 2.26, hP[0]); sig(h, 1, 4.69, 1.57, 4.35, hP[1]); }
});
key(434, 584, { col: H_RED, shape: 'open', dash: true, w: 9, size: 8 });
txt('dCas-METTL1 + TP53 gRNA (neg)', 447, 584, { size: 8.5 });
key(434, 594, { col: H_RED, shape: 'open', w: 9, size: 8 });
txt('dCas-METTL1 + TP53 gRNA', 447, 595, { size: 8.5 });

// ---------------- i ----------------
panel('i', 598, 442);
key(647, 451, { col: I_BLUE, shape: 'box', w: 12, size: 7 });
txt('dCas-IGF2BP3 + TP53 gRNA', 665, 451, { size: 8.5 });
key(647, 463, { col: I_RED, shape: 'box', w: 12, size: 7 });
txt('dCas-METTL1 + TP53 gRNA', 665, 463, { size: 8.5 });
txt('Relative TP53 mRNA level', 604, 522, { size: 9, rot: -90 });
txt('(normalize to neg gRNA)', 615, 522, { size: 9, rot: -90 });
const iLabelPos = iCells.map((c, i) => i < iSlotMet.length ? (iSlotIgf[i] + iSlotMet[i]) / 2 : iSlotIgf[i]);
mk([598, 462, 200, 130], [629, 472, 780, 571], {
  type: 'bar',
  data: { datasets: [
    { data: iIgf.map((v, i) => ({ x: iSlotIgf[i], y: v })), backgroundColor: I_BLUE, borderColor: '#222', borderWidth: 1, borderSkipped: false, barThickness: 12, grouped: false },
    { data: iMet.map((v, i) => ({ x: iSlotMet[i], y: v })), backgroundColor: I_RED, borderColor: '#222', borderWidth: 1, borderSkipped: false, barThickness: 12, grouped: false }
  ] },
  options: {
    scales: {
      x: ax({ type: 'linear', offset: false, min: -0.81, max: 8.625,
              afterBuildTicks: s => { s.ticks = iLabelPos.map((v, i) => ({ value: v, t: iCells[i] })); },
              grid: { drawOnChartArea: false, drawTicks: false } }, { padding: 5, font: { size: 8.5 }, callback: (v, i, tk) => tk[i].t }),
      y: ax({ min: 0, max: 1.057, afterBuildTicks: fix([0, 0.2, 0.4, 0.6, 0.8, 1.0]) }, { font: { size: 9 }, callback: v => v.toFixed(1) })
    },
    plugins: { extras: { draw: h => {
      h.path([[h.area.left, h.py(1)], [h.area.right - 8, h.py(1)]], '#444', 1, [3, 3]);
      h.label('Y=1', h.area.right - 6, h.py(1), '#333', 9);
      [[iIgf, iIgfSd, iIgfDots, 'circle'], [iMet, iMetSd, iMetDots, 'rect']].forEach(([vals, sd, dots, shp], d) =>
        vals.forEach((v, i) => {
          const x = h.el(d, i).x;
          h.err(x, h.py(v + sd[i]), h.py(v - sd[i]), '#222', 4, 1);
          dots[i].forEach((y, k) => h.dot(x + (k - 1) * 3.5, h.py(y), shp, shp === 'rect' ? 1.8 : 2, 'rgba(255,255,255,0.2)', '#333'));
        }));
    } } }
  }
});

// ---------------- j / l: western blots ----------------
panel('j', 3, 630);
txt('T98G', 116, 611, { size: 9.5, align: 'c' });
txt('dCas-IGF2BP3', 97, 626, { size: 8.5, align: 'c' });
txt('dCas-METTL1', 157, 626, { size: 8.5, align: 'c' });
rule(67, 127, 632);
rule(129, 185, 632);
txt('neg', 84, 643, { size: 8.5, rot: -45 });
txt('gRNA', 106, 642, { size: 8.5, rot: -45 });
txt('neg', 144, 643, { size: 8.5, rot: -45 });
txt('gRNA', 167, 642, { size: 8.5, rot: -45 });
blot(69, 656, 51, 28, 'linear-gradient(#bdbdbd,#d6d6d6 40%,#c4c4c4)', [[16, 15, 25, 13, 0.97], [39, 15, 19, 10, 0.9]]);
blot(132, 656, 53, 28, 'linear-gradient(#c0c0c0,#d6d6d6 40%,#c6c6c6)', [[14, 15, 23, 11, 0.95], [39, 15, 21, 10, 0.9]]);
blot(69, 687, 51, 19, 'linear-gradient(#c4c4c4,#d8d8d8 50%,#c8c8c8)', [[16, 9, 19, 7, 0.95], [38, 9, 17, 6, 0.9]]);
blot(132, 687, 53, 19, 'linear-gradient(#c4c4c4,#d8d8d8 50%,#c8c8c8)', [[14, 9, 20, 7, 0.95], [39, 9, 19, 7, 0.92]]);
txt('TP53', 65, 671, { size: 8.5, align: 'r' });
txt('GAPDH', 65, 697, { size: 8.5, align: 'r' });
txt('–55 kDa', 186, 662, { size: 8.5 });
txt('–40 kDa', 186, 690, { size: 8.5 });

panel('l', 3, 724);
txt('dCas-IGF2BP3', 127, 722, { size: 8.5, align: 'c' });
rule(97, 156, 729);
txt('neg', 107, 740, { size: 8.5, rot: -45 });
txt('gRNA', 131, 738, { size: 8.5, rot: -45 });
txt('WT', 166, 742, { size: 9, align: 'c' });
blot(93, 752, 75, 23, 'linear-gradient(#b8b8b8,#d2d2d2 50%,#c2c2c2)', [[14, 9, 20, 7, 0.75], [43, 10, 16, 5, 0.25], [64, 9, 18, 7, 0.7]]);
blot(93, 777, 75, 18, 'linear-gradient(#c4c4c4,#dadada 50%,#c8c8c8)', [[17, 9, 19, 7, 0.95], [42, 9, 19, 7, 0.95], [64, 9, 18, 7, 0.95]]);
txt('MGMT', 88, 763, { size: 8.5, align: 'r' });
txt('GAPDH', 88, 786, { size: 8.5, align: 'r' });
txt('–25 kDa', 169, 764, { size: 8.5 });
txt('–40 kDa', 169, 785, { size: 8.5 });

// ---------------- k ----------------
panel('k', 243, 628);
txt('LN229', 360, 632, { size: 12, align: 'c' });
txt('Proliferation', 260, 705, { size: 10.5, rot: -90 });
txt('Time (hours)', 365, 806, { size: 9.5, align: 'c' });
decay([250, 640, 235, 170], [281.7, 650, 441.7, 779.5], [0, 109.6], [0, 20, 40, 60, 80, 100], [1, 4.06], v => v,
  [[1, '1'], [1.5, ''], [2, '2'], [2.5, ''], [3, '3'], [3.5, ''], [4, '4']], [
  { x: kHours, y: kNeg, sd: kNegSd, col: K_GRAY, pt: 'triangle', r: 3.6 },
  { x: kHours, y: kG, sd: kGSd, col: K_BLUE, pt: 'circle', r: 3.6 }
], h => vBracket(h, h.el(1, 4), h.el(0, 4), 4, '#444', 'p=5.0e-06'), 10);
key(287, 652, { col: K_GRAY, shape: 'tri', line: true, w: 16, size: 7 });
txt('dCas-IGF2BP3 + TP53 gRNA (neg)', 307, 652, { size: 9.3 });
key(287, 665, { col: K_BLUE, shape: 'circle', line: true, w: 16, size: 7 });
txt('dCas-IGF2BP3 + TP53 gRNA', 307, 665, { size: 9.3 });

// ---------------- m ----------------
panel('m', 498, 625);
txt('Survival percent', 530, 713, { size: 9.5, rot: -90 });
txt('(72 hr incubation)', 541, 713, { size: 9.5, rot: -90 });
txt('TMZ (µM)', 680, 810, { size: 9.5, align: 'c' });
mk([520, 625, 278, 190], [570, 631.7, 757, 786.7], {
  type: 'line',
  data: { labels: tmzDose, datasets: [
    { data: mWT, borderColor: M_GRAY, backgroundColor: M_GRAY, borderWidth: 1.3, pointStyle: 'rect', pointRadius: 6.3, pointBorderWidth: 0, clip: false },
    { data: mGrna, borderColor: M_LB, backgroundColor: M_LB, borderWidth: 1.3, pointStyle: 'triangle', pointRadius: 5, pointBorderWidth: 0, clip: false },
    { data: mNeg, borderColor: M_DB, backgroundColor: M_DB, borderWidth: 1.3, pointStyle: 'rectRot', pointRadius: 4.6, pointBorderWidth: 0, clip: false }
  ] },
  options: {
    scales: {
      x: ax({ offset: true }, { padding: 3 }),
      y: ax({ min: 0, max: 1.05, afterBuildTicks: fix([0, 0.1, 0.2, 0.3, 0.4, 0.5, 0.6, 0.7, 0.8, 0.9, 1.0]) },
            { callback: v => (Math.round(v * 10) % 2 === 0 ? v.toFixed(1) : '') })
    },
    plugins: { extras: { draw: h => {
      mGrna.forEach((v, i) => { if (mGrnaSd[i]) h.err(h.el(1, i).x, h.py(v + mGrnaSd[i]), h.py(v - mGrnaSd[i]), M_LB, 3.5, 1.2); });
      vBracket(h, h.el(2, 5), h.el(1, 5), 9, '#444', 'p=1.3e-09', 9.3, 2);
    } } }
  }
});
key(574, 746, { col: M_GRAY, shape: 'rect', line: true, w: 22, size: 9 });
txt('WT', 601, 746, { size: 9.5 });
key(574, 760, { col: M_LB, shape: 'tri', line: true, w: 22, size: 8 });
txt('dCas-IGF2BP3 + TP53 gRNA', 601, 760, { size: 9.5 });
key(574, 773, { col: M_DB, shape: 'diamond', line: true, w: 22, size: 8 });
txt('dCas-IGF2BP3 + TP53 gRNA (neg)', 601, 773, { size: 9.5 });
</script>
</body>
</html>
